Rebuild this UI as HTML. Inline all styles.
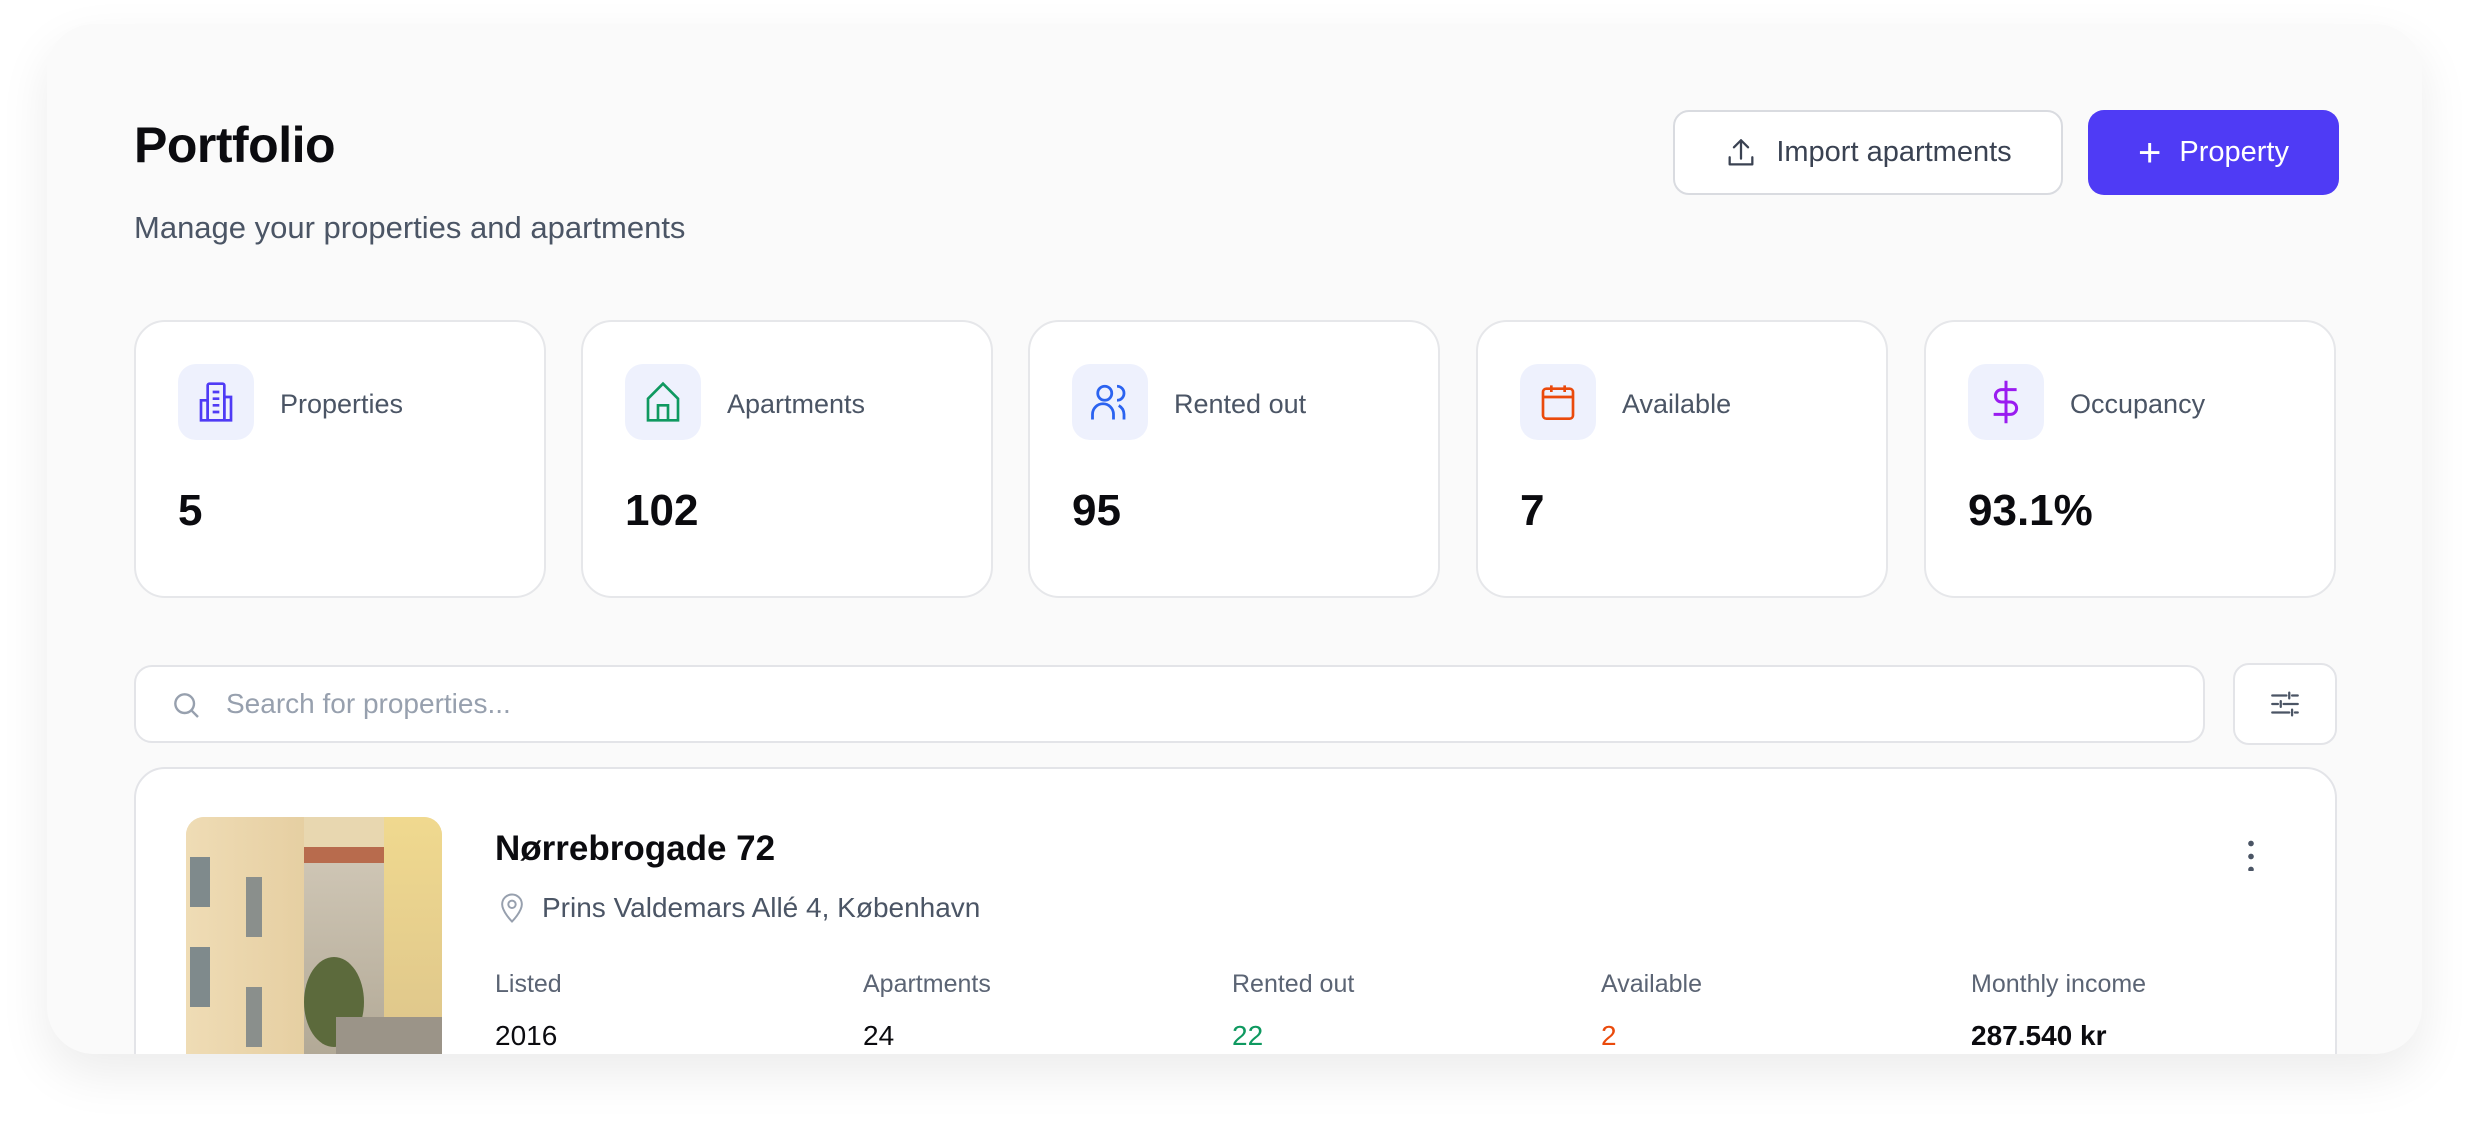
<!DOCTYPE html>
<html><head><meta charset="utf-8"><style>
*{box-sizing:border-box;margin:0;padding:0}
body{width:2469px;height:1125px;background:#fff;font-family:"Liberation Sans",sans-serif;position:relative;overflow:hidden;color:#0b0b0f}
.panel{position:absolute;left:47px;top:24px;width:2375px;height:1030px;background:#fafafa;border-radius:47px;box-shadow:0 20px 50px rgba(0,0,0,0.08);overflow:hidden}
.abs{position:absolute}
h1{position:absolute;left:87px;top:92px;font-size:50px;font-weight:700;letter-spacing:-0.5px}
.sub{position:absolute;left:87px;top:186px;font-size:31px;color:#4b5565}
.btn{position:absolute;top:86px;height:85px;border-radius:16px;display:flex;align-items:center;justify-content:center;font-size:29px}
.imp{left:1626px;width:390px;background:#fff;border:2px solid #d9dbe0;color:#3a4252}
.prop{left:2041px;width:251px;background:#4f3bf5;color:#fff}
.card{position:absolute;top:296px;width:412px;height:278px;background:#fff;border:2px solid #e6e7ea;border-radius:31px}
.ic{position:absolute;left:42px;top:42px;width:76px;height:76px;border-radius:18px;background:#eef1fd;display:flex;align-items:center;justify-content:center}
.lbl{position:absolute;left:144px;top:67px;font-size:27px;color:#4b5565}
.val{position:absolute;left:42px;top:164px;font-size:44px;font-weight:700}
.search{position:absolute;left:87px;top:641px;width:2071px;height:78px;background:#fff;border:2px solid #e3e4e8;border-radius:18px}
.filt{position:absolute;left:2186px;top:639px;width:104px;height:82px;background:#fff;border:2px solid #e3e4e8;border-radius:16px;display:flex;align-items:center;justify-content:center}
.pcard{position:absolute;left:87px;top:743px;width:2203px;height:400px;background:#fff;border:2px solid #e3e4e8;border-radius:31px}
.sl{position:absolute;top:201px;font-size:25px;color:#5b6474}
.sv{position:absolute;top:251px;font-size:28px;color:#0b0b0f}
</style></head><body>
<div class="panel">
<h1>Portfolio</h1>
<div class="sub">Manage your properties and apartments</div>
<div class="btn imp"><svg width="34" height="34" viewBox="0 0 24 24" fill="none" stroke="#3a4252" stroke-width="1.6" stroke-linecap="round" stroke-linejoin="round" style="margin-right:18px"><path d="M4 15v5h16v-5M12 16V3M7 8l5-5 5 5"/></svg>Import apartments</div>
<div class="btn prop"><span style="font-size:40px;font-weight:300;margin-right:18px;line-height:1">+</span>Property</div>

<div class="card" style="left:87px"><div class="ic"><svg width="40" height="44" viewBox="0 0 24 26" fill="none" stroke="#4f3bf5" stroke-width="1.6"><rect x="7" y="2" width="10" height="22" rx="1"/><path d="M3 12h4v12H3zM17 10h4v14h-4zM10 7h4M10 11h4M10 15h4M10 19h4"/></svg></div><div class="lbl">Properties</div><div class="val">5</div></div>
<div class="card" style="left:534px"><div class="ic"><svg width="40" height="44" viewBox="0 0 24 26" fill="none" stroke="#0f9960" stroke-width="1.6"><path d="M3 24V11l9-9 9 9v13zM9 24v-9h6v9"/></svg></div><div class="lbl">Apartments</div><div class="val">102</div></div>
<div class="card" style="left:981px"><div class="ic"><svg width="42" height="42" viewBox="0 0 24 24" fill="none" stroke="#2b63f0" stroke-width="1.6"><circle cx="9" cy="7" r="4"/><path d="M2 22v-3a6 6 0 0 1 12 0v3M16 3a4 4 0 0 1 0 8M20 22v-3a6 6 0 0 0-3-5"/></svg></div><div class="lbl">Rented out</div><div class="val">95</div></div>
<div class="card" style="left:1429px"><div class="ic"><svg width="40" height="42" viewBox="0 0 24 24" fill="none" stroke="#ea4a0c" stroke-width="1.6"><rect x="3" y="4" width="18" height="18" rx="2"/><path d="M3 9h18M8 2v4M16 2v4"/></svg></div><div class="lbl">Available</div><div class="val">7</div></div>
<div class="card" style="left:1877px"><div class="ic"><svg width="36" height="46" viewBox="0 0 20 26" fill="none" stroke="#9a1cf0" stroke-width="1.7"><path d="M10 1v24M16 6H7.5a3.5 3.5 0 0 0 0 7h5a3.5 3.5 0 0 1 0 7H3"/></svg></div><div class="lbl">Occupancy</div><div class="val">93.1%</div></div>

<div class="search"><svg class="abs" style="left:34px;top:22px" width="32" height="32" viewBox="0 0 24 24" fill="none" stroke="#97a0ae" stroke-width="1.8"><circle cx="11" cy="11" r="7"/><path d="M16 16l5 5"/></svg><div class="abs" style="left:90px;top:21px;font-size:28px;color:#97a0ae">Search for properties...</div></div>
<div class="filt"><svg width="34" height="34" viewBox="0 0 24 24" fill="none" stroke="#4b5565" stroke-width="1.6" stroke-linecap="round"><path d="M3 6h10M17 6h4M15 4v4M3 12h4M11 12h10M9 10v4M3 18h12M19 18h2M17 16v4"/></svg></div>

<div class="pcard">
<div class="abs" style="left:50px;top:48px;width:256px;height:300px;border-radius:18px;overflow:hidden;background:#e8d7b0">
<div class="abs" style="left:0;top:0;width:118px;height:300px;background:linear-gradient(90deg,#efdcb5,#e6cfa2)"></div>
<div class="abs" style="left:118px;top:40px;width:80px;height:260px;background:linear-gradient(#cfc6b5,#a9a08d)"></div>
<div class="abs" style="left:118px;top:30px;width:80px;height:16px;background:#b86b4d"></div>
<div class="abs" style="left:198px;top:0;width:58px;height:300px;background:linear-gradient(#f0d98f,#d8c08a)"></div>
<div class="abs" style="left:118px;top:140px;width:60px;height:90px;border-radius:50%;background:#5c6a3c"></div>
<div class="abs" style="left:150px;top:200px;width:106px;height:100px;background:#9b9488"></div>
<div class="abs" style="left:125px;top:260px;width:70px;height:40px;border-radius:20px 20px 0 0;background:#f2f2f0"></div>
<div class="abs" style="left:4px;top:40px;width:20px;height:50px;background:#7f8a8c"></div>
<div class="abs" style="left:4px;top:130px;width:20px;height:60px;background:#7f8a8c"></div>
<div class="abs" style="left:60px;top:60px;width:16px;height:60px;background:#8a8f8c"></div>
<div class="abs" style="left:60px;top:170px;width:16px;height:60px;background:#8a8f8c"></div>
</div>
<div class="abs" style="left:359px;top:60px;font-size:35px;font-weight:700">Nørrebrogade 72</div>
<svg class="abs" style="left:363px;top:123px" width="26" height="32" viewBox="0 0 20 26" fill="none" stroke="#97a0ae" stroke-width="1.6"><path d="M10 24s8-8 8-14a8 8 0 0 0-16 0c0 6 8 14 8 14z"/><circle cx="10" cy="10" r="3"/></svg>
<div class="abs" style="left:406px;top:123px;font-size:28px;color:#4b5565">Prins Valdemars Allé 4, København</div>
<div class="sl" style="left:359px">Listed</div><div class="sv" style="left:359px">2016</div>
<div class="sl" style="left:727px">Apartments</div><div class="sv" style="left:727px">24</div>
<div class="sl" style="left:1096px">Rented out</div><div class="sv" style="left:1096px;color:#0f9960">22</div>
<div class="sl" style="left:1465px">Available</div><div class="sv" style="left:1465px;color:#ea4a0c">2</div>
<div class="sl" style="left:1835px">Monthly income</div><div class="sv" style="left:1835px;font-weight:700">287.540 kr</div>
<div class="abs" style="left:2112px;top:68px;width:6px;height:34px;background:radial-gradient(circle,#4b5565 2.6px,transparent 3px) 0 0/6px 13px repeat-y"></div>
</div>
</div>
</body></html>
